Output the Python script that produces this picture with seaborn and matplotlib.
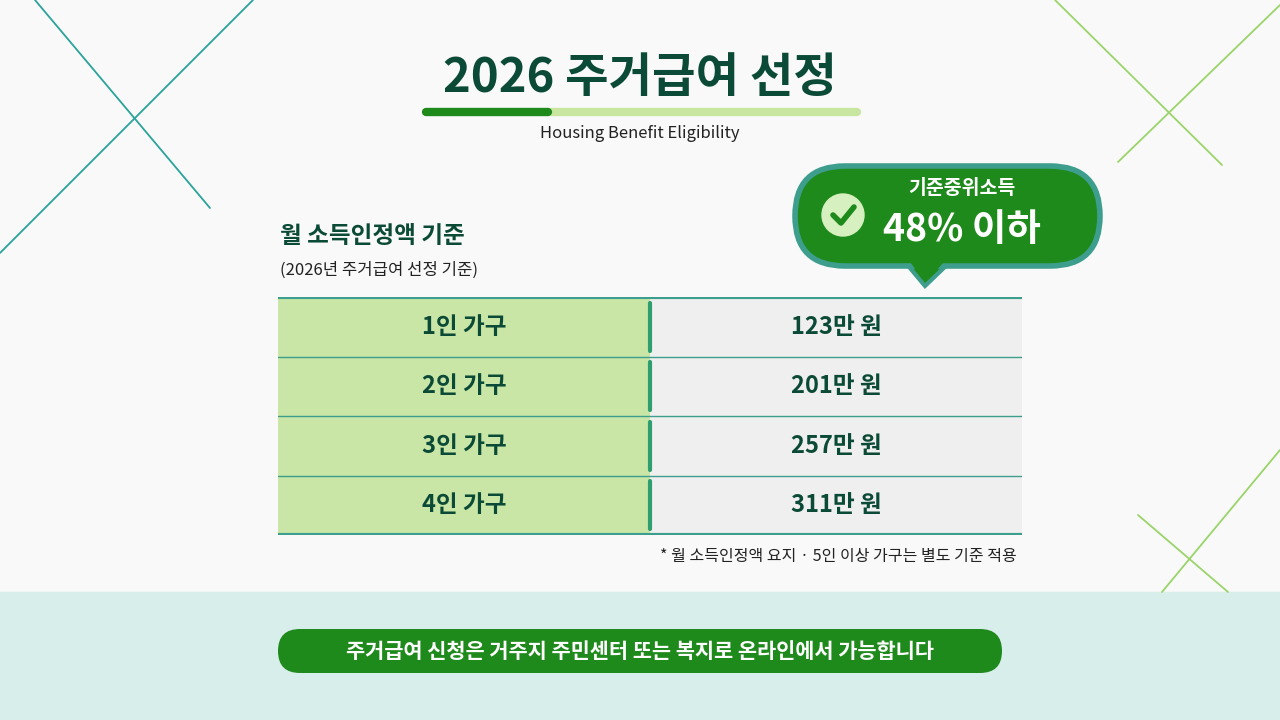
import numpy as np
import matplotlib
matplotlib.use("Agg")
import matplotlib.pyplot as plt
from matplotlib.colors import ListedColormap
from matplotlib.patches import FancyBboxPatch, Polygon, Circle, Rectangle
import seaborn as sns

households = ['1인 가구', '2인 가구', '3인 가구', '4인 가구']
amounts = [123, 201, 257, 311]
amount_labels = [f'{a}만 원' for a in amounts]

sns.set_style('white')
plt.rcParams['font.family'] = ['Noto Sans CJK KR', 'DejaVu Sans']

DARK = '#0B4A36'
GREEN = '#1F8A1C'
TEAL = '#3E9E8E'

fig = plt.figure(figsize=(12.8, 7.2), dpi=100)
fig.patch.set_facecolor('#F8F9F8')
bg = fig.add_axes([0, 0, 1, 1])
bg.set_xlim(0, 1280)
bg.set_ylim(720, 0)
bg.axis('off')

# decorative lines
for (x0, y0, x1, y1, c) in [(0, 253, 253, 0, '#2BA39A'), (35, 0, 210, 208, '#2BA39A'),
                            (1055, 0, 1222, 165, '#9AD46A'), (1280, 5, 1118, 162, '#9AD46A'),
                            (1138, 515, 1228, 592, '#9AD46A'), (1280, 450, 1162, 592, '#9AD46A')]:
    bg.plot([x0, x1], [y0, y1], color=c, lw=1.3)

# bottom band
bg.add_patch(Rectangle((0, 592), 1280, 128, color='#D8EEEA', zorder=0))

# title
bg.text(640, 78, '2026 주거급여 선정', ha='center', va='center', fontsize=34,
        fontweight='bold', color=DARK)
bg.plot([548, 857], [112, 112], color='#C8E6A0', lw=6, solid_capstyle='round')
bg.plot([426, 548], [112, 112], color=GREEN, lw=6, solid_capstyle='round')
bg.text(640, 134, 'Housing Benefit Eligibility', ha='center', va='center',
        fontsize=12, color='#222222')

# left heading
bg.text(280, 236, '월 소득인정액 기준', ha='left', va='center', fontsize=17,
        fontweight='bold', color=DARK)
bg.text(280, 270, '(2026년 주거급여 선정 기준)', ha='left', va='center', fontsize=12,
        color='#222222')

# speech bubble
bg.add_patch(Polygon([[905, 262], [950, 262], [925, 286]], closed=True,
                     facecolor=GREEN, edgecolor=TEAL, lw=3, zorder=3))
bg.add_patch(FancyBboxPatch((795, 166), 305, 100, boxstyle='round,pad=0,rounding_size=50',
                            facecolor=GREEN, edgecolor=TEAL, lw=4, zorder=4))
bg.add_patch(Polygon([[907, 258], [948, 258], [925, 282]], closed=True,
                     facecolor=GREEN, edgecolor='none', zorder=5))
bg.add_patch(Circle((843, 215), 21, color='#D6F0C0', zorder=5))
bg.plot([833, 841, 854], [215, 223, 207], color=GREEN, lw=4, zorder=6,
        solid_capstyle='round', solid_joinstyle='round')
bg.text(962, 188, '기준중위소득', ha='center', va='center', fontsize=14,
        fontweight='bold', color='white', zorder=6)
bg.text(962, 230, '48% 이하', ha='center', va='center', fontsize=27,
        fontweight='bold', color='white', zorder=6)

# table via heatmap
tab = fig.add_axes([278 / 1280, 1 - 535 / 720, 744 / 1280, 238 / 720])
data = np.array([[0, 1]] * len(households))
annot = np.array([[h, a] for h, a in zip(households, amount_labels)])
sns.heatmap(data, ax=tab, cmap=ListedColormap(['#C9E6A6', '#EFEFEF']), cbar=False,
            annot=annot, fmt='', annot_kws={'fontsize': 17, 'fontweight': 'bold', 'color': DARK},
            xticklabels=False, yticklabels=False)
for i in range(len(households) + 1):
    tab.axhline(i, color=TEAL, lw=3 if i in (0, len(households)) else 1)
for i in range(len(households)):
    tab.plot([1, 1], [i + 0.1, i + 0.9], color='#2E9E6E', lw=3)

# footnote
bg.text(1017, 556, '* 월 소득인정액 요지 · 5인 이상 가구는 별도 기준 적용', ha='right',
        va='center', fontsize=11.5, color='#222222')

# bottom pill
bg.add_patch(FancyBboxPatch((278, 629), 724, 44, boxstyle='round,pad=0,rounding_size=22',
                            facecolor=GREEN, edgecolor='none'))
bg.text(640, 651, '주거급여 신청은 거주지 주민센터 또는 복지로 온라인에서 가능합니다',
        ha='center', va='center', fontsize=15, fontweight='bold', color='white')

fig.savefig('out.png', dpi=100, facecolor=fig.get_facecolor())
